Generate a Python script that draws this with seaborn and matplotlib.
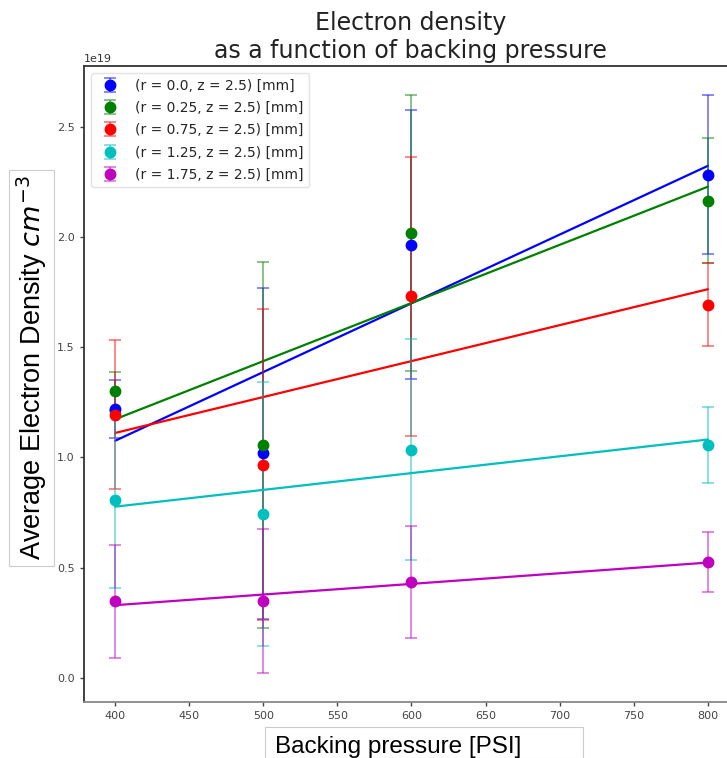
import numpy as np
import matplotlib
matplotlib.use("Agg")
import matplotlib.pyplot as plt
import seaborn as sns
from matplotlib.patches import Rectangle

# Backing pressure settings [PSI]
pressure = [400, 500, 600, 800]

# Probe positions (r, z) in mm
labels = [
    "(r = 0.0, z = 2.5) [mm]",
    "(r = 0.25, z = 2.5) [mm]",
    "(r = 0.75, z = 2.5) [mm]",
    "(r = 1.25, z = 2.5) [mm]",
    "(r = 1.75, z = 2.5) [mm]",
]
colors = ["b", "g", "r", "c", "m"]

# Average electron density [1e19 cm^-3] and its uncertainty
dens_r000 = [1.219, 1.018, 1.965, 2.282]
err_r000 = [0.133, 0.750, 0.610, 0.360]
dens_r025 = [1.300, 1.056, 2.017, 2.165]
err_r025 = [0.085, 0.830, 0.627, 0.282]
dens_r075 = [1.194, 0.967, 1.730, 1.693]
err_r075 = [0.337, 0.707, 0.634, 0.188]
dens_r125 = [0.805, 0.743, 1.035, 1.055]
err_r125 = [0.400, 0.600, 0.503, 0.172]
dens_r175 = [0.346, 0.349, 0.435, 0.525]
err_r175 = [0.258, 0.326, 0.255, 0.138]

densities = [dens_r000, dens_r025, dens_r075, dens_r125, dens_r175]
errors = [err_r000, err_r025, err_r075, err_r125, err_r175]
scale = 1e19

sns.set_style("ticks")
plt.rcParams["font.family"] = ["DejaVu Sans"]
plt.rcParams["mathtext.fontset"] = "dejavusans"

fig = plt.figure(figsize=(7.27, 7.58), dpi=100)
ax = fig.add_axes([0.1155, 0.0745, 0.899, 0.8385])

x = np.array(pressure, dtype=float)
handles = []
for dens, err, col, lab in zip(densities, errors, colors, labels):
    y = np.array(dens) * scale
    e = np.array(err) * scale
    h = ax.errorbar(x, y, yerr=e, fmt="o", color=col, ms=7.5, capsize=4,
                    elinewidth=1.2, capthick=1.2, label=lab)
    for part in h.lines[1] + h.lines[2]:
        part.set_alpha(0.55)
    handles.append(h)
    # least-squares trend line over the measured pressure range
    sns.regplot(x=x, y=y, ax=ax, ci=None, scatter=False, truncate=True,
                color=col, line_kws={"lw": 1.6})

ax.set_xlim(379, 820)
ax.set_ylim(-0.108e19, 2.776e19)
ax.set_xticks([400, 450, 500, 550, 600, 650, 700, 750, 800])
ax.set_yticks(np.array([0.0, 0.5, 1.0, 1.5, 2.0, 2.5]) * scale)
ax.tick_params(labelsize=8, labelcolor="#444444", color="#444444",
               length=3, width=1)
ax.yaxis.get_offset_text().set_fontsize(8)
ax.yaxis.get_offset_text().set_color("#333333")

for side in ["left", "top", "right"]:
    ax.spines[side].set_color("#333333")
    ax.spines[side].set_linewidth(1.3)
ax.spines["bottom"].set_color("#888888")
ax.spines["bottom"].set_linewidth(1.3)

ax.set_title("Electron density\nas a function of backing pressure",
             fontsize=17, color="#222222", pad=6, linespacing=1.2)

ax.set_ylabel("Average Electron Density $cm^{-3}$", fontsize=19.5,
              family="Liberation Sans", color="black",
              bbox=dict(boxstyle="square,pad=0.2", fc="white",
                        ec="#cccccc", lw=0.8))
ax.yaxis.set_label_coords(-0.054, 0.525)

ax.set_xlabel("Backing pressure [PSI]", fontsize=17.5,
              family="Liberation Sans", color="black")
ax.xaxis.set_label_coords(0.481, -0.055)
ax.xaxis.label.set_verticalalignment("top")
fig.patches.append(Rectangle((265 / 727, 0.0), (583 - 265) / 727,
                             (758 - 727) / 758, transform=fig.transFigure,
                             fill=False, ec="#cccccc", lw=0.8))

ax.legend(handles=handles, loc="upper left", fontsize=10, labelspacing=0.6,
          frameon=True, edgecolor="#dddddd")

fig.savefig("out.png", dpi=100)
